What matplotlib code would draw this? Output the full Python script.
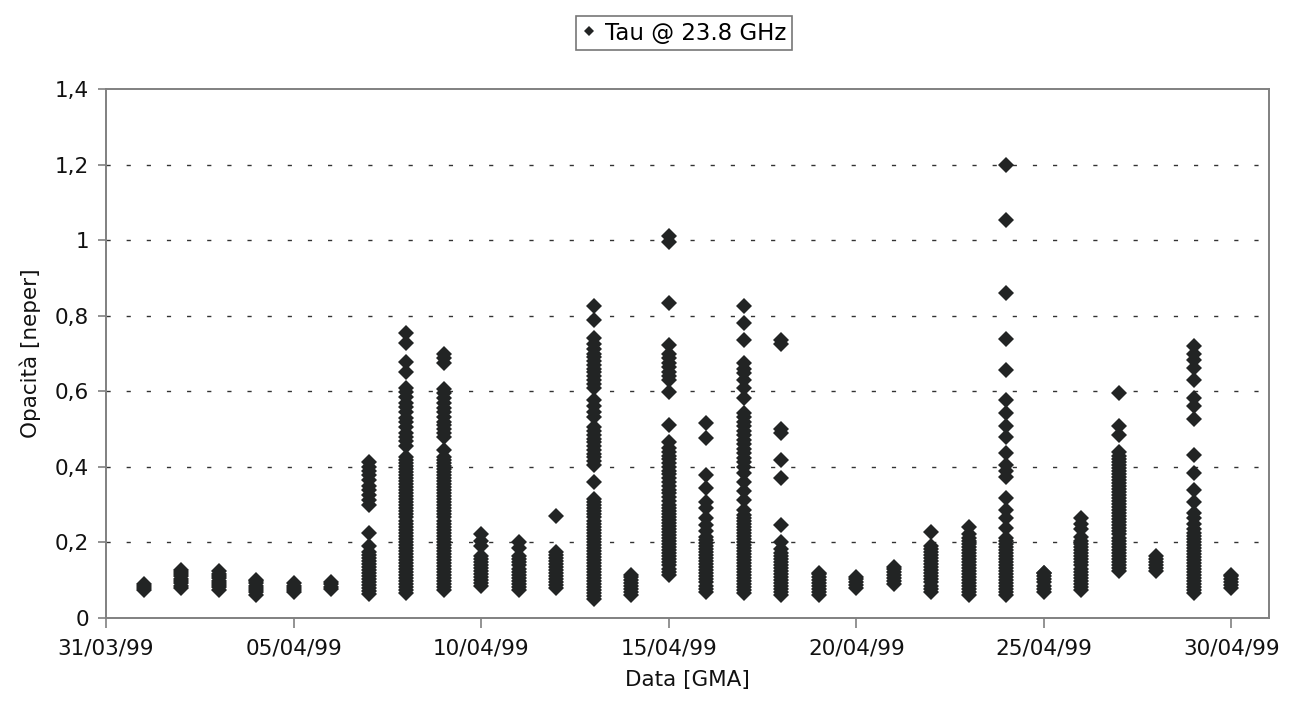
#!/usr/bin/env python3
"""Opacita' a 23.8 GHz - aprile 1999 (scatter per giorno)."""

from datetime import datetime

import matplotlib
matplotlib.use("Agg")
import matplotlib.pyplot as plt
import matplotlib.dates as mdates
from matplotlib.lines import Line2D
from matplotlib.ticker import FuncFormatter

# --- data: tau values read per day (neper) ---
tau_0104 = [0.075, 0.08, 0.085, 0.09]
tau_0204 = [0.08, 0.086, 0.092, 0.098, 0.104, 0.11, 0.116, 0.122, 0.127]
tau_0304 = [0.075, 0.081, 0.087, 0.093, 0.099, 0.105, 0.111, 0.117, 0.124]
tau_0404 = [0.062, 0.068, 0.074, 0.08, 0.086, 0.092, 0.098, 0.10]
tau_0504 = [0.068, 0.074, 0.08, 0.086, 0.092]
tau_0604 = [0.077, 0.083, 0.089, 0.095]
tau_0704 = [0.063, 0.071, 0.079, 0.087, 0.095, 0.103, 0.111, 0.119, 0.127,
            0.135, 0.143, 0.151, 0.159, 0.167, 0.175, 0.19, 0.225,
            0.30, 0.312, 0.325, 0.338, 0.35, 0.365, 0.378, 0.39, 0.40, 0.412]
tau_0804 = [0.066, 0.074, 0.082, 0.09, 0.098, 0.106, 0.114, 0.122, 0.13, 0.138,
            0.146, 0.154, 0.162, 0.17, 0.178, 0.186, 0.194, 0.202, 0.21, 0.218,
            0.226, 0.234, 0.242, 0.25, 0.258, 0.266, 0.274, 0.282, 0.29, 0.298,
            0.306, 0.314, 0.322, 0.33, 0.338, 0.346, 0.354, 0.362, 0.37, 0.378,
            0.386, 0.394, 0.402, 0.41, 0.418, 0.426,
            0.455, 0.468, 0.48, 0.49, 0.505, 0.518, 0.53, 0.545, 0.558, 0.57,
            0.585, 0.597, 0.61, 0.651, 0.677, 0.727, 0.754]
tau_0904 = [0.074, 0.082, 0.09, 0.098, 0.106, 0.114, 0.122, 0.13, 0.138, 0.146,
            0.154, 0.162, 0.17, 0.178, 0.186, 0.194, 0.202, 0.21, 0.218, 0.226,
            0.234, 0.242, 0.25, 0.258, 0.266, 0.274, 0.282, 0.29, 0.298, 0.306,
            0.314, 0.322, 0.33, 0.338, 0.346, 0.354, 0.362, 0.37, 0.378, 0.386,
            0.394, 0.402, 0.41, 0.418, 0.426, 0.445,
            0.48, 0.49, 0.50, 0.51, 0.52, 0.532, 0.545, 0.557, 0.57, 0.582,
            0.595, 0.607, 0.675, 0.688, 0.70]
tau_1004 = [0.085, 0.093, 0.101, 0.109, 0.117, 0.125, 0.133, 0.141, 0.149,
            0.157, 0.165, 0.19, 0.205, 0.222]
tau_1104 = [0.075, 0.083, 0.091, 0.099, 0.107, 0.115, 0.123, 0.131, 0.139,
            0.147, 0.155, 0.163, 0.185, 0.2]
tau_1204 = [0.08, 0.088, 0.096, 0.104, 0.112, 0.12, 0.128, 0.136, 0.144, 0.152,
            0.16, 0.168, 0.175, 0.27]
tau_1304 = [0.05, 0.058, 0.066, 0.074, 0.082, 0.09, 0.098, 0.106, 0.114, 0.122,
            0.13, 0.138, 0.146, 0.154, 0.162, 0.17, 0.178, 0.186, 0.194, 0.202,
            0.21, 0.218, 0.226, 0.234, 0.242, 0.25, 0.258, 0.266, 0.274, 0.282,
            0.29, 0.298, 0.306, 0.316, 0.36,
            0.405, 0.415, 0.425, 0.435, 0.445, 0.455, 0.465, 0.475, 0.485,
            0.495, 0.505, 0.532, 0.545, 0.56, 0.577,
            0.61, 0.62, 0.63, 0.64, 0.65, 0.66, 0.67, 0.68, 0.69, 0.70, 0.712,
            0.725, 0.74, 0.789, 0.825]
tau_1404 = [0.06, 0.068, 0.076, 0.084, 0.092, 0.10, 0.108, 0.115]
tau_1504 = [0.115, 0.123, 0.131, 0.139, 0.147, 0.155, 0.163, 0.171, 0.179,
            0.187, 0.195, 0.203, 0.211, 0.219, 0.227, 0.235, 0.243, 0.251,
            0.259, 0.267, 0.275, 0.283, 0.291, 0.30, 0.31, 0.32, 0.33, 0.34,
            0.35, 0.36, 0.37, 0.38, 0.39, 0.40, 0.41, 0.42, 0.43, 0.44, 0.45,
            0.466, 0.51, 0.598, 0.63, 0.64, 0.652, 0.664, 0.676, 0.688, 0.70,
            0.722, 0.833, 0.995, 1.01]
tau_1604 = [0.07, 0.078, 0.086, 0.094, 0.102, 0.11, 0.118, 0.126, 0.134, 0.142,
            0.15, 0.158, 0.166, 0.174, 0.182, 0.19, 0.198, 0.206, 0.215, 0.23,
            0.245, 0.265, 0.29, 0.308, 0.345, 0.378, 0.476, 0.516]
tau_1704 = [0.065, 0.073, 0.081, 0.089, 0.097, 0.105, 0.113, 0.121, 0.129,
            0.137, 0.145, 0.153, 0.161, 0.169, 0.177, 0.185, 0.193, 0.201,
            0.209, 0.217, 0.225, 0.233, 0.241, 0.249, 0.257, 0.265, 0.273,
            0.286, 0.313, 0.335, 0.36, 0.384,
            0.40, 0.412, 0.424, 0.436, 0.448, 0.46, 0.472, 0.484, 0.496, 0.508,
            0.52, 0.532, 0.543, 0.583, 0.61, 0.63, 0.648, 0.66, 0.675, 0.736,
            0.781, 0.825]
tau_1804 = [0.06, 0.068, 0.076, 0.084, 0.092, 0.10, 0.108, 0.116, 0.124, 0.132,
            0.14, 0.148, 0.156, 0.164, 0.172, 0.182, 0.2, 0.246, 0.37, 0.418,
            0.49, 0.50, 0.725, 0.735]
tau_1904 = [0.06, 0.068, 0.076, 0.084, 0.092, 0.10, 0.108, 0.116, 0.12]
tau_2004 = [0.08, 0.088, 0.096, 0.104, 0.108]
tau_2104 = [0.09, 0.098, 0.106, 0.114, 0.122, 0.13, 0.135]
tau_2204 = [0.07, 0.078, 0.086, 0.094, 0.102, 0.11, 0.118, 0.126, 0.134, 0.142,
            0.15, 0.158, 0.166, 0.174, 0.182, 0.19, 0.228]
tau_2304 = [0.06, 0.068, 0.076, 0.084, 0.092, 0.10, 0.108, 0.116, 0.124, 0.132,
            0.14, 0.148, 0.156, 0.164, 0.172, 0.18, 0.188, 0.196, 0.205, 0.213,
            0.222, 0.24]
tau_2404 = [0.06, 0.068, 0.076, 0.084, 0.092, 0.10, 0.108, 0.116, 0.124, 0.132,
            0.14, 0.148, 0.156, 0.164, 0.172, 0.18, 0.188, 0.196, 0.204, 0.212,
            0.238, 0.265, 0.286, 0.317, 0.374, 0.39, 0.405, 0.436, 0.48, 0.507,
            0.542, 0.577, 0.656, 0.738, 0.86, 1.053, 1.2]
tau_2504 = [0.07, 0.078, 0.086, 0.094, 0.102, 0.11, 0.118, 0.12]
tau_2604 = [0.075, 0.083, 0.091, 0.099, 0.107, 0.115, 0.123, 0.131, 0.139,
            0.147, 0.155, 0.163, 0.171, 0.179, 0.187, 0.195, 0.205, 0.215,
            0.235, 0.25, 0.265]
tau_2704 = [0.125, 0.133, 0.141, 0.149, 0.157, 0.165, 0.173, 0.181, 0.189,
            0.197, 0.205, 0.213, 0.221, 0.229, 0.237, 0.245, 0.253, 0.261,
            0.269, 0.277, 0.285, 0.293, 0.301, 0.309, 0.317, 0.325, 0.333,
            0.341, 0.349, 0.357, 0.365, 0.373, 0.381, 0.389, 0.397, 0.405,
            0.413, 0.421, 0.429, 0.44, 0.485, 0.507, 0.595]
tau_2804 = [0.125, 0.133, 0.141, 0.149, 0.157, 0.165]
tau_2904 = [0.065, 0.073, 0.081, 0.089, 0.097, 0.105, 0.113, 0.121, 0.129,
            0.137, 0.145, 0.153, 0.161, 0.169, 0.177, 0.185, 0.193, 0.201,
            0.209, 0.217, 0.225, 0.235, 0.25, 0.265, 0.277, 0.308, 0.339,
            0.383, 0.432, 0.527, 0.56, 0.582, 0.63, 0.661, 0.684, 0.70, 0.719]
tau_3004 = [0.08, 0.088, 0.096, 0.104, 0.11, 0.115]

day_labels = ["01/04/99", "02/04/99", "03/04/99", "04/04/99", "05/04/99",
              "06/04/99", "07/04/99", "08/04/99", "09/04/99", "10/04/99",
              "11/04/99", "12/04/99", "13/04/99", "14/04/99", "15/04/99",
              "16/04/99", "17/04/99", "18/04/99", "19/04/99", "20/04/99",
              "21/04/99", "22/04/99", "23/04/99", "24/04/99", "25/04/99",
              "26/04/99", "27/04/99", "28/04/99", "29/04/99", "30/04/99"]
day_values = [tau_0104, tau_0204, tau_0304, tau_0404, tau_0504, tau_0604,
              tau_0704, tau_0804, tau_0904, tau_1004, tau_1104, tau_1204,
              tau_1304, tau_1404, tau_1504, tau_1604, tau_1704, tau_1804,
              tau_1904, tau_2004, tau_2104, tau_2204, tau_2304, tau_2404,
              tau_2504, tau_2604, tau_2704, tau_2804, tau_2904, tau_3004]

x_ticks = ["31/03/99", "05/04/99", "10/04/99", "15/04/99", "20/04/99",
           "25/04/99", "30/04/99"]
y_ticks = [0, 0.2, 0.4, 0.6, 0.8, 1.0, 1.2, 1.4]

# flatten into points
xs, ys = [], []
for lab, vals in zip(day_labels, day_values):
    d = datetime.strptime(lab, "%d/%m/%y")
    xs += [d] * len(vals)
    ys += vals

plt.rcParams["font.family"] = ["DejaVu Sans"]
TXT = 15.5
MK = "#222424"
FRAME = "#808080"

fig = plt.figure(figsize=(12.99, 7.18), dpi=100)
ax = fig.add_axes([106 / 1299, 100 / 718, 1163 / 1299, 529 / 718])

ax.plot(xs, ys, linestyle="none", marker="D", markersize=7.8,
        color=MK, markeredgewidth=0, zorder=3)

ax.set_xlim(datetime(1999, 3, 31), datetime(1999, 5, 1))
ax.set_ylim(0, 1.4)

ax.set_xticks([datetime.strptime(t, "%d/%m/%y") for t in x_ticks])
ax.xaxis.set_major_formatter(mdates.DateFormatter("%d/%m/%y"))
ax.set_yticks(y_ticks)
ax.yaxis.set_major_formatter(
    FuncFormatter(lambda v, p: f"{round(v, 1):g}".replace(".", ",")))

for ygrid in y_ticks[1:-1]:
    ax.axhline(ygrid, color="#333333", linewidth=1.0, dashes=(3, 11.5),
               zorder=1)

for s in ax.spines.values():
    s.set_color(FRAME)
    s.set_linewidth(1.4)

ax.tick_params(axis="both", direction="out", color=FRAME, width=1.2,
               labelsize=TXT, labelcolor="#111111")
ax.tick_params(axis="x", length=7, pad=8)
ax.tick_params(axis="y", length=6, pad=6)

ax.set_xlabel("Data [GMA]", fontsize=TXT, labelpad=8, color="#111111")
ax.set_ylabel("Opacità [neper]", fontsize=TXT, labelpad=10, color="#111111")

handle = Line2D([], [], linestyle="none", marker="D", markersize=5.5,
                color=MK, markeredgewidth=0)
leg = fig.legend([handle], ["Tau @ 23.8 GHz"], loc="center",
                 bbox_to_anchor=(684 / 1299, 1 - 33 / 718), fontsize=16.5,
                 frameon=True, fancybox=False, shadow=False,
                 handlelength=0.6, handletextpad=0.4, borderpad=0.25,
                 borderaxespad=0)
leg.get_frame().set_edgecolor("#555555")
leg.get_frame().set_linewidth(1.2)

fig.savefig("out.png", dpi=100)
